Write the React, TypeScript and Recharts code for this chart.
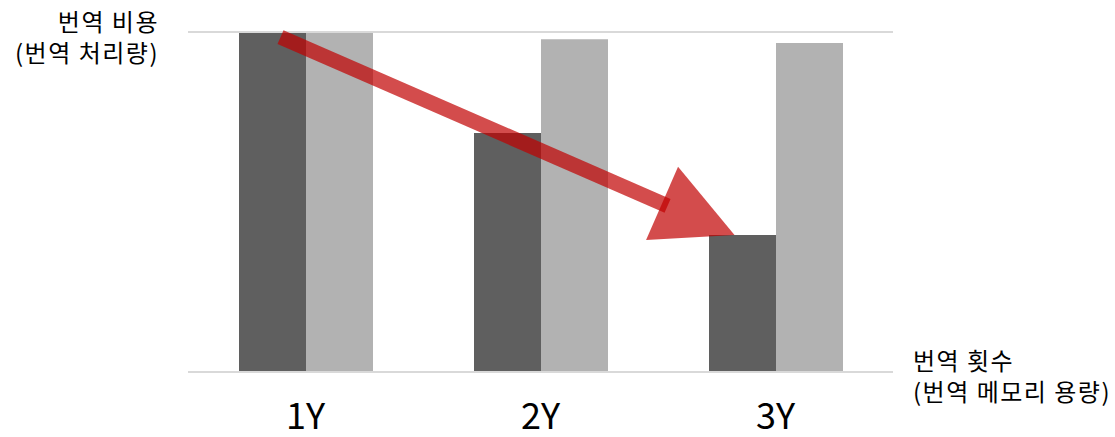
import React from 'react';
import { BarChart, Bar, XAxis, YAxis, ReferenceLine } from 'recharts';

const categories = ['1Y', '2Y', '3Y'];
const costValues = [100, 70.3, 40.3];
const countValues = [100, 97.9, 96.8];
const yLabelLines = ['번역 비용', '(번역 처리량)'];
const xLabelLines = ['번역 횟수', '(번역 메모리 용량)'];
const arrowFrom = { x: '1Y', y: 98.5 };
const arrowTo = { x: '3Y', y: 40.3 };

const data = categories.map((c, i) => ({ name: c, cost: costValues[i], count: countValues[i] }));

const FONT = '"Noto Sans CJK KR", "Noto Sans", sans-serif';

const ArrowShape = (props: any) => {
  const { x1, y1, x2, y2 } = props;
  if ([x1, y1, x2, y2].some((v) => typeof v !== 'number' || isNaN(v))) return null;
  const sx = x1 - 25;
  const sy = y1;
  const tx = x2 - 41;
  const ty = y2;
  const dx = tx - sx;
  const dy = ty - sy;
  const len = Math.sqrt(dx * dx + dy * dy);
  const ux = dx / len;
  const uy = dy / len;
  const L = 79;
  const hw = 40;
  const bx = tx - ux * L;
  const by = ty - uy * L;
  const ex = bx + ux * 6;
  const ey = by + uy * 6;
  const nx = -uy;
  const ny = ux;
  const pts = `${tx},${ty} ${bx + nx * hw},${by + ny * hw} ${bx - nx * hw},${by - ny * hw}`;
  return (
    <g>
      <line x1={sx} y1={sy} x2={ex} y2={ey} stroke="#c00000" strokeOpacity={0.7} strokeWidth={15} strokeLinecap="butt" />
      <polygon points={pts} fill="#c00000" fillOpacity={0.7} />
    </g>
  );
};

export default function App() {
  return (
    <div style={{ position: 'absolute', left: 0, top: 0, width: 1115, height: 437, fontFamily: FONT }}>
      <BarChart
        width={1115}
        height={437}
        data={data}
        margin={{ top: 32, right: 222, bottom: 5, left: 188 }}
        barGap={0}
        barSize={67}
      >
        <XAxis
          dataKey="name"
          axisLine={{ stroke: '#d9d9d9', strokeWidth: 2 }}
          tickLine={false}
          tickSize={0}
          tickMargin={31}
          height={60}
          tick={{ fill: '#000', fontSize: 36, fontFamily: FONT }}
        />
        <YAxis hide domain={[0, 100]} ticks={[0, 100]} />
        <ReferenceLine y={100} stroke="#d9d9d9" strokeWidth={2} />
        <Bar dataKey="cost" fill="#5f5f5f" isAnimationActive={false} />
        <Bar dataKey="count" fill="#b2b2b2" isAnimationActive={false} />
        <ReferenceLine segment={[arrowFrom, arrowTo]} ifOverflow="visible" shape={ArrowShape} />
      </BarChart>
      <div style={{ position: 'absolute', right: 1115 - 159, top: 5, textAlign: 'right', fontSize: 24, letterSpacing: 1.5, lineHeight: '31px', color: '#000', whiteSpace: 'nowrap' }}>
        {yLabelLines.map((l) => (
          <div key={l}>{l}</div>
        ))}
      </div>
      <div style={{ position: 'absolute', left: 913, top: 344, textAlign: 'left', fontSize: 24, letterSpacing: 1.5, lineHeight: '31px', color: '#000', whiteSpace: 'nowrap' }}>
        {xLabelLines.map((l) => (
          <div key={l}>{l}</div>
        ))}
      </div>
    </div>
  );
}
